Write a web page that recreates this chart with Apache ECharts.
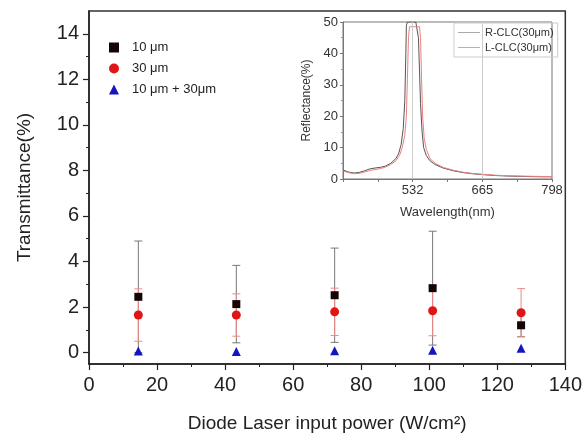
<!DOCTYPE html>
<html>
<head>
<meta charset="utf-8">
<script src="https://cdn.jsdelivr.net/npm/echarts@6/dist/echarts.min.js"></script>
<style>
  html, body { margin: 0; padding: 0; background: #fff; }
  #main { width: 585px; height: 439px; }
</style>
</head>
<body>
<div id="main"></div>
<script>
  // main plot: transmittance vs diode laser power
  var power = [14.5, 43.3, 72.2, 101, 127];
  var t10 = [2.45, 2.13, 2.52, 2.83, 1.2];
  var e10 = [2.45, 1.7, 2.07, 2.5, 0.5];
  var t30 = [1.65, 1.65, 1.79, 1.84, 1.75];
  var e30 = [1.15, 0.93, 1.04, 1.1, 1.06];
  var t1030 = [0.07, 0.05, 0.08, 0.1, 0.19];
  var yMajor = [0, 2, 4, 6, 8, 10, 12, 14];
  var yMinor = [1, 3, 5, 7, 9, 11, 13];

  // inset: reflectance spectra
  var wlR = [400, 410, 420, 430, 440, 450, 460, 470, 480, 490, 500, 505, 510, 514, 517, 519, 520, 522, 530, 538, 541, 543, 545, 547, 550, 553, 558, 565, 575, 590, 610, 630, 650, 665, 690, 720, 750, 780, 798];
  var rR = [2.8, 2.2, 1.9, 2.1, 2.6, 3.2, 3.5, 3.7, 4.1, 5.0, 6.5, 8.0, 11, 16, 25, 40, 49, 50, 50, 50, 49.5, 45, 35, 24, 15, 10, 7.5, 5.8, 4.6, 3.5, 2.6, 2.0, 1.6, 1.4, 1.1, 0.9, 0.8, 0.7, 0.7];
  var wlL = [400, 410, 420, 430, 440, 450, 460, 470, 480, 490, 500, 507, 512, 517, 520, 522, 524, 526, 535, 545, 547, 549, 551, 554, 558, 565, 575, 590, 610, 630, 650, 665, 690, 720, 750, 780, 798];
  var rL = [2.5, 2.0, 1.7, 1.8, 2.2, 2.7, 3.0, 3.3, 3.8, 4.6, 5.8, 7.5, 10, 14, 20, 32, 45, 48.5, 48.5, 48.5, 45, 32, 20, 13, 9.5, 6.5, 5.0, 3.7, 2.8, 2.1, 1.7, 1.5, 1.2, 1.0, 0.9, 0.8, 0.8];
  var wlMarks = [532, 665];

  var font = 'Liberation Sans, Arial, sans-serif';

  function pairs(xs, ys) {
    var out = [];
    for (var i = 0; i < xs.length; i++) out.push([xs[i], ys[i]]);
    return out;
  }
  function errData(xs, ys, es) {
    var out = [];
    for (var i = 0; i < xs.length; i++) out.push([xs[i], ys[i] - es[i], ys[i] + es[i]]);
    return out;
  }
  function errRender(params, api) {
    var x = api.value(0);
    var top = api.coord([x, api.value(2)]);
    var bot = api.coord([x, api.value(1)]);
    var w = 4;
    var st = { stroke: api.visual('color'), lineWidth: 1 };
    return {
      type: 'group',
      children: [
        { type: 'line', shape: { x1: top[0], y1: top[1], x2: bot[0], y2: bot[1] }, style: st },
        { type: 'line', shape: { x1: top[0] - w, y1: top[1], x2: top[0] + w, y2: top[1] }, style: st },
        { type: 'line', shape: { x1: bot[0] - w, y1: bot[1], x2: bot[0] + w, y2: bot[1] }, style: st }
      ]
    };
  }

  var chart = echarts.init(document.getElementById('main'));
  var option = {
    animation: false,
    textStyle: { fontFamily: font },
    grid: [
      { left: 89, top: 11, right: 19, bottom: 75, show: true, borderColor: '#333', borderWidth: 1.5 },
      { left: 343, top: 22, right: 33, bottom: 260, show: true, borderColor: '#777', borderWidth: 1, backgroundColor: '#fff' }
    ],
    legend: [
      {
        data: ['10 μm', '30 μm', '10 μm + 30μm'],
        orient: 'vertical',
        left: 104, top: 36,
        itemWidth: 10, itemHeight: 10, itemGap: 8,
        textStyle: { fontSize: 13, color: '#222', padding: [0, 0, 0, 8] }
      },
      {
        data: ['R-CLC(30μm)', 'L-CLC(30μm)'],
        orient: 'vertical',
        left: 454, top: 23,
        padding: [4, 4, 4, 4],
        borderColor: '#ccc', borderWidth: 1,
        icon: 'rect',
        itemWidth: 22, itemHeight: 1, itemGap: 4,
        textStyle: { fontSize: 11, color: '#333' }
      }
    ],
    xAxis: [
      {
        gridIndex: 0, type: 'value', min: 0, max: 140, interval: 20,
        name: 'Diode Laser input power (W/cm²)', nameLocation: 'middle', nameGap: 50,
        nameTextStyle: { fontSize: 19, color: '#222' },
        axisLine: { onZero: false, lineStyle: { color: '#222', width: 1.5 } },
        axisTick: { length: 6, lineStyle: { color: '#222', width: 1.2 } },
        minorTick: { show: true, splitNumber: 2, length: 3, lineStyle: { color: '#222' } },
        axisLabel: { fontSize: 20, color: '#222', margin: 11 },
        splitLine: { show: false }
      },
      {
        gridIndex: 1, type: 'value', min: 399, max: 798, interval: 66.5,
        name: 'Wavelength(nm)', nameLocation: 'middle', nameGap: 27,
        nameTextStyle: { fontSize: 13, color: '#333' },
        axisLine: { onZero: false, lineStyle: { color: '#777', width: 1 } },
        axisTick: { length: 3, lineStyle: { color: '#777' } },
        axisLabel: {
          fontSize: 13, color: '#333', margin: 5,
          formatter: function (v) { return (v === 532 || v === 665 || v === 798) ? String(v) : ''; }
        },
        splitLine: { show: false }
      }
    ],
    yAxis: [
      {
        gridIndex: 0, type: 'value', min: -0.5, max: 15, position: 'left',
        name: 'Transmittance(%)', nameLocation: 'middle', nameGap: 55,
        nameTextStyle: { fontSize: 19, color: '#222' },
        axisLine: { onZero: false, lineStyle: { color: '#222', width: 1.5 } },
        axisTick: { customValues: yMajor, length: 6, lineStyle: { color: '#222', width: 1.2 } },
        axisLabel: { customValues: yMajor, fontSize: 20, color: '#222', margin: 10 },
        splitLine: { show: false }
      },
      {
        gridIndex: 0, type: 'value', min: -0.5, max: 15, position: 'left', offset: 0,
        axisLine: { show: false, onZero: false },
        axisTick: { customValues: yMinor, length: 3, lineStyle: { color: '#222' } },
        axisLabel: { show: false },
        splitLine: { show: false }
      },
      {
        gridIndex: 1, type: 'value', min: 0, max: 50, interval: 10,
        name: 'Reflectance(%)', nameLocation: 'middle', nameGap: 30,
        nameTextStyle: { fontSize: 12, color: '#333' },
        axisLine: { onZero: false, lineStyle: { color: '#777', width: 1 } },
        axisTick: { length: 3, lineStyle: { color: '#777' } },
        minorTick: { show: true, splitNumber: 2, length: 2, lineStyle: { color: '#999' } },
        axisLabel: { fontSize: 13, color: '#333', margin: 5 },
        splitLine: { show: false }
      }
    ],
    series: [
      {
        name: 'err10', type: 'custom', xAxisIndex: 0, yAxisIndex: 0,
        itemStyle: { color: '#777' }, renderItem: errRender,
        encode: { x: 0, y: [1, 2] }, data: errData(power, t10, e10), z: 1
      },
      {
        name: 'err30', type: 'custom', xAxisIndex: 0, yAxisIndex: 0,
        itemStyle: { color: '#ec8a8a' }, renderItem: errRender,
        encode: { x: 0, y: [1, 2] }, data: errData(power, t30, e30), z: 2
      },
      {
        name: '10 μm', type: 'scatter', xAxisIndex: 0, yAxisIndex: 0,
        symbol: 'rect', symbolSize: 8,
        itemStyle: { color: '#150505', opacity: 1 },
        data: pairs(power, t10), z: 5
      },
      {
        name: '30 μm', type: 'scatter', xAxisIndex: 0, yAxisIndex: 0,
        symbol: 'circle', symbolSize: 9,
        itemStyle: { color: '#e01515', opacity: 1 },
        data: pairs(power, t30), z: 5
      },
      {
        name: '10 μm + 30μm', type: 'scatter', xAxisIndex: 0, yAxisIndex: 0,
        symbol: 'triangle', symbolSize: 9,
        itemStyle: { color: '#1515c0', opacity: 1 },
        data: pairs(power, t1030), z: 5
      },
      {
        name: 'R-CLC(30μm)', type: 'line', xAxisIndex: 1, yAxisIndex: 2,
        showSymbol: false, symbol: 'none',
        lineStyle: { color: '#555', width: 1 }, itemStyle: { color: '#aaa' },
        data: pairs(wlR, rR), z: 4,
        markLine: {
          silent: true, symbol: 'none', label: { show: false },
          lineStyle: { color: '#ccc', type: 'solid', width: 1 },
          data: wlMarks.map(function (v) { return { xAxis: v }; })
        }
      },
      {
        name: 'L-CLC(30μm)', type: 'line', xAxisIndex: 1, yAxisIndex: 2,
        showSymbol: false, symbol: 'none',
        lineStyle: { color: '#ee8080', width: 1 }, itemStyle: { color: '#ee9a9a' },
        data: pairs(wlL, rL), z: 4
      }
    ]
  };
  chart.setOption(option);
</script>
</body>
</html>
